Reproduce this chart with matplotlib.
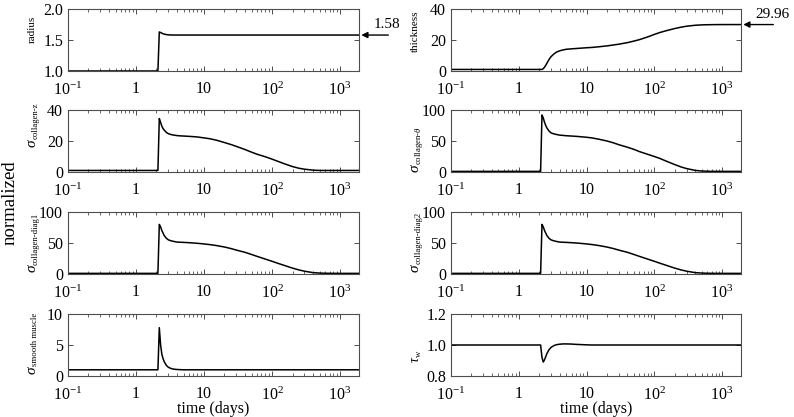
import matplotlib
matplotlib.use("Agg")
import matplotlib.pyplot as plt
from matplotlib.ticker import FixedLocator, FixedFormatter, LogLocator, NullFormatter

plt.rcParams['font.family'] = ['Liberation Serif', 'DejaVu Serif']
plt.rcParams['mathtext.fontset'] = 'custom'
plt.rcParams['mathtext.rm'] = 'Liberation Serif'
plt.rcParams['mathtext.it'] = 'Liberation Serif:italic'

# ---- data ----
days = [0.1, 1.0, 2.1, 2.2, 2.3, 2.4, 2.5, 2.6, 2.8, 3.0,
        3.3, 3.6, 4.0, 4.5, 5.0, 6.0, 7.0, 8.0, 10, 12,
        15, 20, 25, 30, 40, 50, 60, 80, 100, 120,
        150, 200, 250, 300, 400, 500, 600, 800, 1000, 1900]

radius = [1.0, 1.0, 1.0, 1.63, 1.62, 1.61, 1.60, 1.595, 1.587, 1.583,
          1.581] + [1.58] * 29

thickness = [1.0, 1.0, 1.0, 1.0, 1.5, 2.5, 3.7, 5.0, 7.5, 9.3,
             11.0, 12.2, 13.0, 13.6, 14.0, 14.3, 14.5, 14.7, 15.0, 15.2,
             15.6, 16.2, 16.8, 17.3, 18.3, 19.3, 20.2, 22.0, 23.6, 24.8,
             26.0, 27.4, 28.3, 28.9, 29.5, 29.75, 29.85, 29.93, 29.95, 29.96]

s_coll_z = [1.0, 1.0, 1.0, 34.5, 32.0, 29.5, 28.0, 27.0, 25.5, 24.7,
            24.1, 23.8, 23.5, 23.3, 23.2, 23.0, 22.8, 22.6, 22.0, 21.5,
            20.6, 19.0, 17.7, 16.5, 14.5, 12.8, 11.5, 9.8, 8.3, 7.0,
            5.4, 3.5, 2.4, 1.8, 1.2, 1.0, 1.0, 1.0, 1.0, 1.0]

s_coll_theta = [1.0, 1.0, 1.0, 92.0, 87.0, 80.0, 75.0, 71.0, 66.0, 63.0,
                61.5, 60.5, 59.5, 59.0, 58.5, 58.0, 57.5, 57.0, 56.0, 55.0,
                53.0, 50.0, 47.0, 44.0, 40.0, 36.5, 33.0, 28.5, 25.0, 22.0,
                17.5, 12.0, 8.0, 5.5, 2.6, 1.6, 1.2, 1.0, 1.0, 1.0]

s_coll_diag1 = [1.0, 1.0, 1.0, 80.0, 76.0, 70.0, 66.0, 62.0, 57.5, 55.0,
                53.5, 52.5, 51.5, 51.2, 51.0, 50.5, 50.0, 49.5, 48.5, 47.5,
                46.0, 43.5, 41.0, 38.5, 35.0, 31.5, 28.5, 24.0, 20.5, 17.5,
                14.0, 9.5, 6.5, 4.5, 2.2, 1.5, 1.2, 1.0, 1.0, 1.0]

s_coll_diag2 = [1.0, 1.0, 1.0, 80.0, 76.0, 70.0, 66.0, 62.0, 57.5, 55.0,
                53.5, 52.5, 51.5, 51.2, 51.0, 50.5, 50.0, 49.5, 48.5, 47.5,
                46.0, 43.5, 41.0, 38.5, 35.0, 31.5, 28.5, 24.0, 20.5, 17.5,
                14.0, 9.5, 6.5, 4.5, 2.2, 1.5, 1.2, 1.0, 1.0, 1.0]

s_smooth = [1.0, 1.0, 1.0, 7.8, 5.0, 3.5, 2.8, 2.3, 1.7, 1.4,
            1.2, 1.1, 1.05, 1.02, 1.0] + [1.0] * 25

tau_w = [1.0, 1.0, 1.0, 0.92, 0.89, 0.905, 0.925, 0.945, 0.97, 0.985,
         0.996, 1.002, 1.005, 1.007, 1.007, 1.006, 1.004, 1.003, 1.001,
         1.0] + [1.0] * 20

xtick_vals = [0.1, 1, 10, 100, 1000]
xtick_lbls = [r'$10^{-1}$', '1', '10', r'$10^{2}$', r'$10^{3}$']

# ---- figure ----
W, H = 794, 417
fig = plt.figure(figsize=(W / 100, H / 100), dpi=100)

tops = [9, 110, 212, 314]
ph = 62
lefts = [(68, 291), (451, 290)]

def make_ax(col, row):
    x0, w = lefts[col]
    return fig.add_axes([x0 / W, 1 - (tops[row] + ph) / H, w / W, ph / H])

frame = '0.3'

def style(ax, ylim, yticks, fmt):
    ax.set_xscale('log')
    ax.set_xlim(0.1, 1900)
    ax.set_ylim(*ylim)
    ax.xaxis.set_major_locator(FixedLocator(xtick_vals))
    ax.xaxis.set_major_formatter(FixedFormatter(xtick_lbls))
    ax.xaxis.set_minor_locator(LogLocator(base=10, subs=range(2, 10), numticks=20))
    ax.xaxis.set_minor_formatter(NullFormatter())
    ax.set_yticks(yticks)
    ax.set_yticklabels([fmt % v for v in yticks])
    ax.tick_params(which='both', direction='in', top=True, right=True,
                   color=frame, labelsize=11.5)
    ax.tick_params(axis='x', pad=7.5)
    ax.tick_params(axis='y', pad=3.5)
    ax.tick_params(which='major', length=3.5, width=0.7)
    ax.tick_params(which='minor', length=2, width=0.6)
    for s in ax.spines.values():
        s.set_color(frame)
        s.set_linewidth(0.8)

def sym_label(ax, sym, sub, yc, size=11, subsize=6.3):
    x = -0.124
    ax.text(x, yc, sym, transform=ax.transAxes, rotation=90, fontsize=size,
            style='italic', ha='center', va='top')
    ax.text(x + 0.012, yc, sub, transform=ax.transAxes, rotation=90,
            fontsize=subsize, ha='center', va='bottom')

lw = 1.1

ax = make_ax(0, 0)
ax.plot(days, radius, color='k', lw=lw)
style(ax, (1.0, 2.0), [1.0, 1.5, 2.0], '%.1f')
ax.text(-0.124, 0.675, 'radius', transform=ax.transAxes, rotation=90,
        fontsize=8, ha='center', va='center')
ax.annotate('', xy=(1.008, 1.58), xycoords=('axes fraction', 'data'),
            xytext=(27, 0), textcoords='offset pixels',
            arrowprops=dict(arrowstyle='-|>', color='k', lw=1.0,
                            mutation_scale=9, shrinkA=0, shrinkB=0))
fig.text(374 / W, 1 - 24 / H, '1.58', fontsize=11, ha='left', va='center')

ax = make_ax(1, 0)
ax.plot(days, thickness, color='k', lw=lw)
style(ax, (0, 40), [0, 20, 40], '%d')
ax.text(-0.124, 0.64, 'thickness', transform=ax.transAxes, rotation=90,
        fontsize=8, ha='center', va='center')
ax.annotate('', xy=(1.008, 29.96), xycoords=('axes fraction', 'data'),
            xytext=(30, 0), textcoords='offset pixels',
            arrowprops=dict(arrowstyle='-|>', color='k', lw=1.0,
                            mutation_scale=9, shrinkA=0, shrinkB=0))
fig.text(755 / W, 1 - 15 / H, '29.96', fontsize=11, ha='left', va='center')

ax = make_ax(0, 1)
ax.plot(days, s_coll_z, color='k', lw=lw)
style(ax, (0, 40), [0, 20, 40], '%d')
sym_label(ax, 'σ', 'collagen-z', 0.53)

ax = make_ax(1, 1)
ax.plot(days, s_coll_theta, color='k', lw=lw)
style(ax, (0, 100), [0, 50, 100], '%d')
sym_label(ax, 'σ', r'collagen-$\theta$', 0.12)

ax = make_ax(0, 2)
ax.plot(days, s_coll_diag1, color='k', lw=lw)
style(ax, (0, 100), [0, 50, 100], '%d')
sym_label(ax, 'σ', 'collagen-diag1', 0.15)

ax = make_ax(1, 2)
ax.plot(days, s_coll_diag2, color='k', lw=lw)
style(ax, (0, 100), [0, 50, 100], '%d')
sym_label(ax, 'σ', 'collagen-diag2', 0.16)

ax = make_ax(0, 3)
ax.plot(days, s_smooth, color='k', lw=lw)
style(ax, (0, 10), [0, 5, 10], '%d')
sym_label(ax, 'σ', 'smooth muscle', 0.16)
ax.set_xlabel('time (days)', fontsize=11.5, labelpad=-2)

ax = make_ax(1, 3)
ax.plot(days, tau_w, color='k', lw=lw)
style(ax, (0.8, 1.2), [0.8, 1.0, 1.2], '%.1f')
sym_label(ax, 'τ', 'w', 0.3, size=10, subsize=6.3)
ax.set_xlabel('time (days)', fontsize=11.5, labelpad=-2)

fig.text(10 / W, 1 - 203 / H, 'normalized', rotation=90, fontsize=13.5,
         ha='center', va='center')

fig.savefig('out.png', dpi=100)
